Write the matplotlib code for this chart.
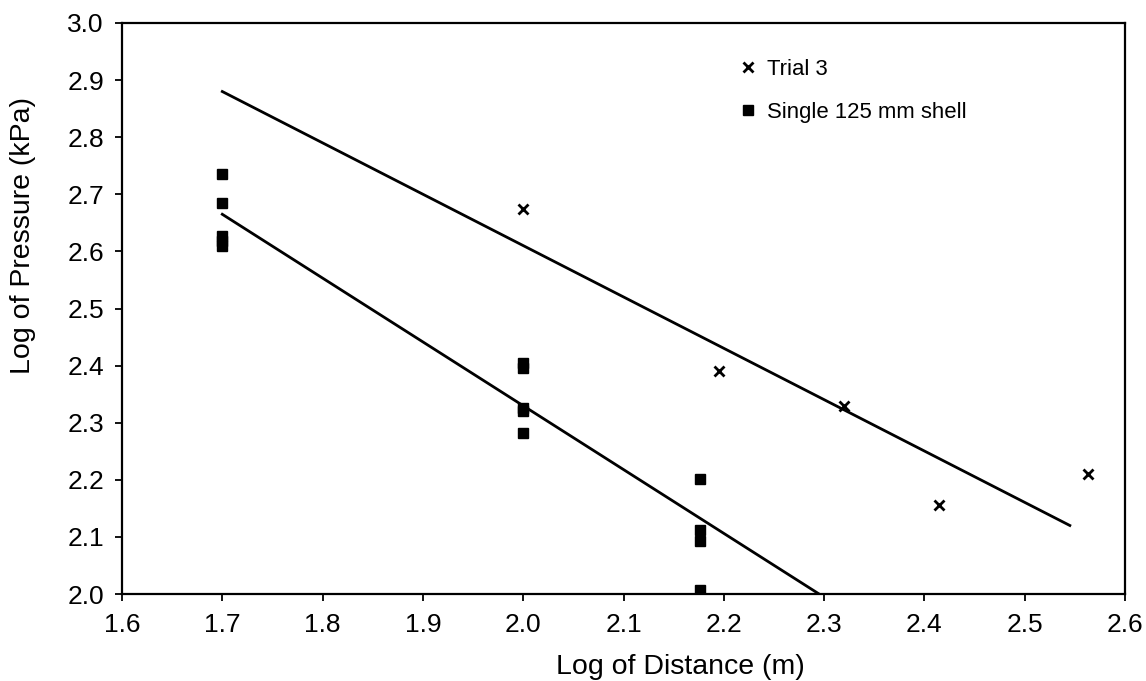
import numpy as np
import matplotlib
matplotlib.use("Agg")
import matplotlib.pyplot as plt
from matplotlib.ticker import FormatStrFormatter

plt.rcParams['font.family'] = ['Liberation Sans', 'DejaVu Sans']

# Trial 3 data
trial_x = [2.0, 2.195, 2.32, 2.415, 2.563]
trial_y = [2.675, 2.39, 2.33, 2.155, 2.21]

# Single 125 mm shell data
shell_x = [1.7, 1.7, 1.7, 1.7, 1.7,
           2.0, 2.0, 2.0, 2.0, 2.0,
           2.176, 2.176, 2.176, 2.176]
shell_y = [2.735, 2.685, 2.627, 2.618, 2.61,
           2.405, 2.395, 2.325, 2.32, 2.282,
           2.201, 2.112, 2.092, 2.007]

# trendlines (start / end)
trial_fit_x = [1.7, 2.545]
trial_fit_y = [2.88, 2.12]
shell_fit_x = [1.7, 2.295]
shell_fit_y = [2.665, 2.0]

fig = plt.figure(figsize=(11.46, 6.81), dpi=100)
ax = fig.add_axes([122 / 1146, 1 - 594 / 681, 1003 / 1146, 571 / 681])

ax.plot(trial_x, trial_y, 'x', color='black', markersize=7.5, mew=2, label='Trial 3')
ax.plot(shell_x, shell_y, 's', color='black', markersize=7, label='Single 125 mm shell')

ax.plot(trial_fit_x, trial_fit_y, color='black', linewidth=2)
ax.plot(shell_fit_x, shell_fit_y, color='black', linewidth=2)

ax.set_xlim(1.6, 2.6)
ax.set_ylim(2.0, 3.0)
ax.set_xticks(np.arange(1.6, 2.61, 0.1))
ax.set_yticks(np.arange(2.0, 3.01, 0.1))
ax.xaxis.set_major_formatter(FormatStrFormatter('%.1f'))
ax.yaxis.set_major_formatter(FormatStrFormatter('%.1f'))
ax.tick_params(labelsize=19, width=1.3, length=5, direction='out')
ax.tick_params(axis='y', pad=8)
ax.tick_params(axis='x', pad=9)
for s in ax.spines.values():
    s.set_linewidth(1.6)

ax.set_xlabel('Log of Distance (m)', fontsize=20.5)
ax.set_ylabel('Log of Pressure (kPa)', fontsize=20.5)
ax.xaxis.set_label_coords(0.557, -0.105, transform=ax.transAxes)
ax.xaxis.label.set_va('top')
ax.yaxis.set_label_coords(-0.086, 0.627, transform=ax.transAxes)

ax.legend(loc='upper left', bbox_to_anchor=(0.6134, 0.937), frameon=False,
          fontsize=15.9, handlelength=1.0, handletextpad=0.36, labelspacing=1.0,
          borderpad=0, borderaxespad=0)

fig.savefig('out.png', dpi=100)
